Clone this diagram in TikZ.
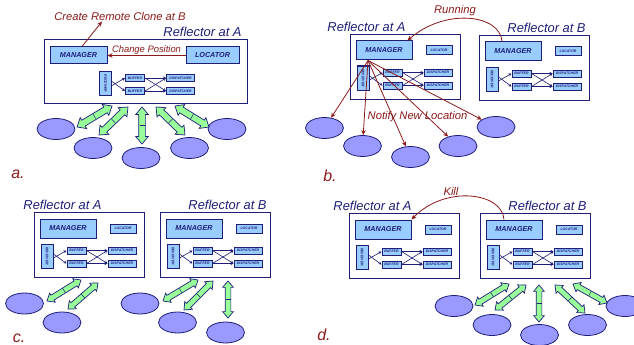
\documentclass[tikz,border=0pt]{standalone}
\usepackage{fontspec}
\setmainfont{Liberation Sans}
\usepackage{graphicx}
\usetikzlibrary{arrows.meta,calc,shapes.geometric,shapes.arrows}

\definecolor{frameBlue}{HTML}{1E1E78}
\definecolor{boxBlue}{HTML}{99CCFF}
\definecolor{hostBlue}{HTML}{9999FF}
\definecolor{linkGreen}{HTML}{99FF99}
\definecolor{noteRed}{HTML}{8B1A1A}

\tikzset{
	frame/.style={draw=frameBlue, line width=1pt, fill=white, inner sep=0pt, anchor=north west},
	manager/.style={draw=frameBlue, fill=boxBlue, line width=1pt, minimum width=56pt, minimum height=19pt, inner sep=0pt, text=frameBlue, font=\fontsize{7.2}{8}\selectfont\bfseries\itshape},
	part/.style={draw=frameBlue, fill=boxBlue, line width=1pt, inner sep=0pt, text=frameBlue, font=\fontsize{3.5}{4}\selectfont\bfseries\itshape},
	host/.style={ellipse, draw=frameBlue, fill=hostBlue, line width=0.8pt, minimum width=38pt, minimum height=21pt, inner sep=0pt},
	link/.style={double arrow, draw=frameBlue, fill=linkGreen, line width=0.7pt, inner xsep=0pt, inner ysep=2.5pt, double arrow head extend=2.5pt, double arrow tip angle=80},
	seam/.style={draw=frameBlue, line width=0.5pt},
	wire/.style={draw=frameBlue, line width=0.6pt, -{Stealth[length=3pt, width=3pt]}},
	note/.style={text=noteRed, inner sep=1pt, font=\fontsize{11.2}{13}\selectfont\itshape},
	notice/.style={draw=noteRed, line width=0.8pt, -{Stealth[length=5pt, width=4.5pt]}},
	title/.style={text=frameBlue, anchor=base east, inner sep=0pt, font=\fontsize{12.9}{15}\selectfont\itshape},
	panel/.style={text=noteRed, inner sep=0pt, font=\fontsize{16}{18}\selectfont\itshape},
}

\newcommand{\relay}[3]{%
	\node[part, minimum width=12pt, minimum height=24pt] (#1rcv) at (#2,#3) {\rotatebox{-90}{RECEIVER}};
	\node[part, minimum width=19pt, minimum height=7pt] (#1buf1) at ({#2+29.5},{#3-5.5}) {BUFFER};
	\node[part, minimum width=19pt, minimum height=7pt] (#1buf2) at ({#2+29.5},{#3+7.5}) {BUFFER};
	\node[part, minimum width=28pt, minimum height=7pt] (#1dsp1) at ({#2+75},{#3-5.5}) {DISPATCHER};
	\node[part, minimum width=28pt, minimum height=7pt] (#1dsp2) at ({#2+75},{#3+7.5}) {DISPATCHER};
	\draw[wire] ([yshift=2pt]#1rcv.east) -- (#1buf2.west);
	\draw[wire] ([yshift=-2pt]#1rcv.east) -- (#1buf1.west);
	\draw[wire] (#1buf1.east) -- (#1dsp1.west);
	\draw[wire] (#1buf1.east) -- (#1dsp2.west);
	\draw[wire] (#1buf2.east) -- (#1dsp1.west);
	\draw[wire] (#1buf2.east) -- (#1dsp2.west);
}

\newcommand{\reflector}[5]{%
	\node[frame, minimum width=110pt, minimum height=65pt] (#1) at (#2,#3) {};
	\node[title] (#1title) at (#5,{#3-2.5}) {#4};
	\node[manager] (#1man) at ({#2+34},{#3+16.5}) {MANAGER};
	\node[part, minimum width=26pt, minimum height=9pt] (#1loc) at ({#2+89},{#3+16.5}) {LOCATOR};
	\relay{#1}{#2+13}{#3+44}
}

\newcommand{\link}[3]{%
	\coordinate (#1s) at (#2);
	\coordinate (#1t) at (#3);
	\path let \p1=($(#1t)-(#1s)$) in node[link, rotate={atan2(\y1,\x1)}, minimum height={veclen(\x1,\y1)}] (#1) at ($(#1s)!0.5!(#1t)$) {};
	\draw[seam] ($(#1)!2.5pt!90:(#1t)$) -- ($(#1)!2.5pt!-90:(#1t)$);
}

\begin{document}
\begin{tikzpicture}[x=1pt, y=-1pt, thick]
	\useasboundingbox (0,0) rectangle (634,345);

	% a.
	\node[frame, minimum width=203pt, minimum height=64pt] (a) at (44,39) {};
	\node[title] (atitle) at (242,36.5) {Reflector at A};
	\node[manager, minimum width=57pt, minimum height=17pt] (aman) at (78.5,55.5) {MANAGER};
	\node[manager, minimum width=53pt, minimum height=17pt] (aloc) at (212.5,55.5) {LOCATOR};
	\relay{a}{105.5}{83.5}
	\draw[notice] (aloc) -- node[note, anchor=south, font=\fontsize{9.4}{11}\selectfont\itshape] (change) {Change Position} (aman);
	\node[note] (clone) at (120,16) {Create Remote Clone at B};
	\draw[notice] ([xshift=3.5pt]aman.north) -- ([xshift=-18pt]clone.south);
	\node[host] (ah1) at (56,129) {};
	\node[host] (ah2) at (93,148) {};
	\node[host] (ah3) at (141,158) {};
	\node[host] (ah4) at (189.5,148) {};
	\node[host] (ah5) at (227,129) {};
	\begin{scope}[link/.append style={inner ysep=3pt, double arrow head extend=3pt}]
		\link{al1}{77,127}{112,106}
		\link{al2}{99,135}{128,107}
		\link{al3}{142,107}{142,144}
		\link{al4}{156,107}{185,135}
		\link{al5}{175,106}{209,127}
	\end{scope}
	\node[panel] (alabel) at (18,174) {a.};

	% b.
	\reflector{bA}{350}{34}{Reflector at A}{406}
	\reflector{bB}{479}{35}{Reflector at B}{586}
	\draw[notice] ([xshift=-11pt]bBman.north) .. controls (500,14) and (445,8) .. ([xshift=-5pt]bAman.north east);
	\node[note] (running) at (455,11) {Running};
	\node[host] (bh1) at (324.5,128) {};
	\node[host] (bh2) at (362.5,146) {};
	\node[host] (bh3) at (410.5,157) {};
	\node[host] (bh4) at (458,146) {};
	\node[host] (bh5) at (496,127) {};
	\coordinate (notify) at ([xshift=-16pt]bAman.south);
	\draw[notice] (notify) -- (bh1);
	\draw[notice] (notify) -- (bh2);
	\draw[notice] (notify) -- (bh3);
	\draw[notice] (notify) -- (bh4);
	\draw[notice] (notify) -- (bh5);
	\node[note] (location) at (417.5,117) {Notify New Location};
	\node[panel] (blabel) at (330,176) {b.};

	% c.
	\reflector{cA}{34}{212}{Reflector at A}{102}
	\reflector{cB}{160}{212}{Reflector at B}{267}
	\node[host] (ch1) at (24.5,303.5) {};
	\node[host] (ch2) at (62,322.5) {};
	\node[host] (ch3) at (140,303.5) {};
	\node[host] (ch4) at (177.5,322.5) {};
	\node[host] (ch5) at (225.5,332.5) {};
	\link{cl1}{47,301}{81,280}
	\link{cl2}{68,309}{98,283}
	\link{cl3}{163,301}{198,280}
	\link{cl4}{184,310}{213,281}
	\link{cl5}{228,281}{228,318}
	\node[panel] (clabel) at (19,338) {c.};

	% d.
	\reflector{dA}{349}{213}{Reflector at A}{412}
	\reflector{dB}{480}{213}{Reflector at B}{587}
	\draw[notice] ([xshift=-10pt]dBman.north) .. controls (502,192) and (445,185) .. (dAman.north east);
	\node[note] (kill) at (451,191) {Kill};
	\node[host] (dh1) at (454,306) {};
	\node[host] (dh2) at (492,325) {};
	\node[host] (dh3) at (539.5,335) {};
	\node[host] (dh4) at (587.5,325) {};
	\node[host] (dh5) at (625,306) {};
	\link{dl1}{475,305}{509,284}
	\link{dl2}{495,310}{526,285}
	\link{dl3}{539,285}{539,322}
	\link{dl4}{555,285}{585,313}
	\link{dl5}{573,284}{607,303}
	\node[panel] (dlabel) at (324,335) {d.};
\end{tikzpicture}
\end{document}
